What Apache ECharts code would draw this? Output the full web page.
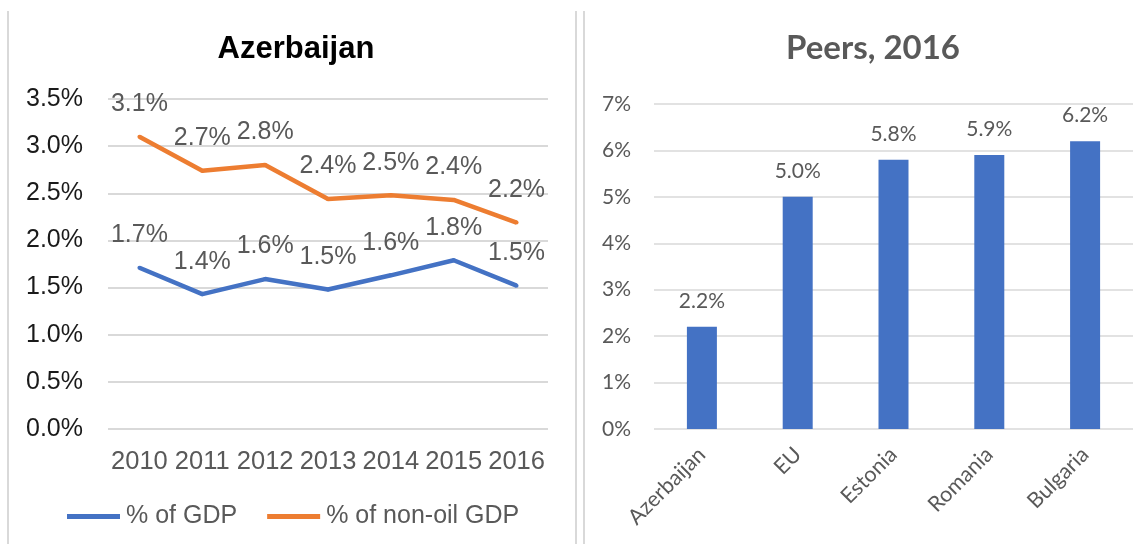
<!DOCTYPE html>
<html>
<head>
<meta charset="utf-8">
<script src="https://cdn.jsdelivr.net/npm/echarts@6/dist/echarts.min.js"></script>
<style>
  html, body { margin: 0; padding: 0; background: #ffffff; }
  #chart { width: 1141px; height: 544px; }
</style>
</head>
<body>
<div id="chart"></div>
<script>
// ---- data ----
var years = ['2010', '2011', '2012', '2013', '2014', '2015', '2016'];
var gdpShare = [1.71, 1.43, 1.59, 1.48, 1.63, 1.79, 1.52];
var nonOilShare = [3.10, 2.74, 2.80, 2.44, 2.48, 2.43, 2.19];
var peers = ['Azerbaijan', 'EU', 'Estonia', 'Romania', 'Bulgaria'];
var peerValues = [2.2, 5.0, 5.8, 5.9, 6.2];
var leftTitle = 'Azerbaijan';
var rightTitle = 'Peers, 2016';
var seriesNames = ['% of GDP', '% of non-oil GDP'];

var leftFont = '"Liberation Sans", Arial, sans-serif';
var rightFont = 'Lato, "Open Sans", sans-serif';
var gray = '#595959';
var gridColor = '#d9d9d9';

var chart = echarts.init(document.getElementById('chart'), null, { renderer: 'canvas' });

function lineSeries(name, data, color) {
  return {
    name: name,
    type: 'line',
    xAxisIndex: 0,
    yAxisIndex: 0,
    data: data,
    symbol: 'circle',
    symbolSize: 4,
    showSymbol: true,
    itemStyle: { color: color },
    lineStyle: { color: color, width: 4.5 },
    emphasis: { disabled: true },
    label: {
      show: true,
      position: 'top',
      distance: 18,
      fontFamily: leftFont,
      fontSize: 25,
      color: gray,
      formatter: function (p) { return p.value.toFixed(1) + '%'; }
    },
    z: 3
  };
}

var option = {
  animation: false,
  backgroundColor: '#ffffff',
  title: [
    {
      text: leftTitle,
      left: 291, top: 29, textAlign: 'center',
      textStyle: { fontFamily: leftFont, fontWeight: 'bold', fontSize: 31, color: '#000000' }
    },
    {
      text: rightTitle,
      left: 868, top: 27, textAlign: 'center',
      textStyle: { fontFamily: rightFont, fontWeight: 'bold', fontSize: 33, color: gray }
    }
  ],
  legend: {
    data: seriesNames,
    left: 62, top: 499,
    icon: 'rect',
    itemWidth: 53, itemHeight: 5,
    itemGap: 30,
    textStyle: { fontFamily: leftFont, fontSize: 25, color: gray, padding: [0, 0, 0, 1] }
  },
  grid: [
    { left: 108, top: 99, width: 440, height: 330, containLabel: false },
    { left: 654, top: 104, width: 479, height: 325, containLabel: false }
  ],
  xAxis: [
    {
      gridIndex: 0, type: 'category', data: years, boundaryGap: true,
      axisLine: { show: false }, axisTick: { show: false },
      axisLabel: { fontFamily: leftFont, fontSize: 25.5, color: gray, margin: 20, interval: 0 }
    },
    {
      gridIndex: 1, type: 'category', data: peers, boundaryGap: true,
      axisLine: { show: false }, axisTick: { show: false },
      axisLabel: { fontFamily: rightFont, fontSize: 21.5, color: gray, rotate: 45, margin: 22, interval: 0 }
    }
  ],
  yAxis: [
    {
      gridIndex: 0, type: 'value', min: 0, max: 3.5, interval: 0.5,
      axisLine: { show: false }, axisTick: { show: false },
      splitLine: { lineStyle: { color: gridColor, width: 2 } },
      axisLabel: {
        fontFamily: leftFont, fontSize: 25, color: '#1a1a1a', margin: 25,
        formatter: function (v) { return v.toFixed(1) + '%'; }
      }
    },
    {
      gridIndex: 1, type: 'value', min: 0, max: 7, interval: 1,
      axisLine: { show: false }, axisTick: { show: false },
      splitLine: { lineStyle: { color: gridColor, width: 1.5 } },
      axisLabel: {
        fontFamily: rightFont, fontSize: 21, color: gray, margin: 23,
        formatter: function (v) { return v + '%'; }
      }
    }
  ],
  series: [
    lineSeries(seriesNames[0], gdpShare, '#4472C4'),
    lineSeries(seriesNames[1], nonOilShare, '#ED7D31'),
    {
      name: 'Peers',
      type: 'bar',
      xAxisIndex: 1, yAxisIndex: 1,
      data: peerValues,
      barWidth: 30,
      itemStyle: { color: '#4472C4' },
      emphasis: { disabled: true },
      label: {
        show: true, position: 'top', distance: 15,
        fontFamily: rightFont, fontSize: 21, color: gray,
        formatter: function (p) { return p.value.toFixed(1) + '%'; }
      }
    }
  ],
  graphic: [
    { type: 'line', shape: { x1: 8, y1: 11, x2: 8, y2: 544 }, style: { stroke: gridColor, lineWidth: 2 } },
    { type: 'line', shape: { x1: 576, y1: 11, x2: 576, y2: 544 }, style: { stroke: gridColor, lineWidth: 2 } },
    { type: 'line', shape: { x1: 584, y1: 11, x2: 584, y2: 544 }, style: { stroke: gridColor, lineWidth: 2 } }
  ]
};

chart.setOption(option);
</script>
</body>
</html>
